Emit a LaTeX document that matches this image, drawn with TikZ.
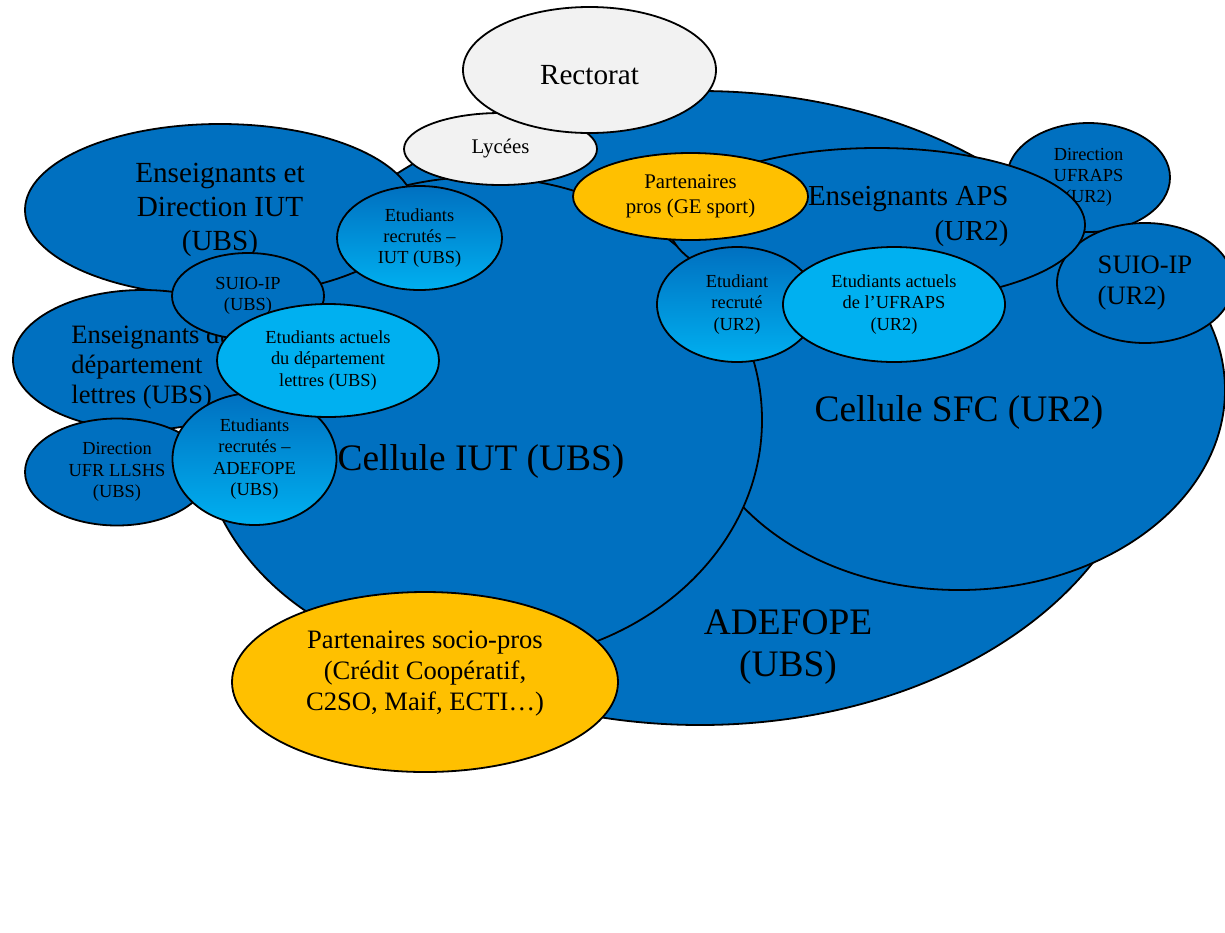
\documentclass[tikz,border=0pt]{standalone}
\usepackage{fontspec}
\setmainfont{Liberation Serif}
\usetikzlibrary{shapes.geometric}
\definecolor{bleu}{HTML}{0070C0}
\definecolor{ciel}{HTML}{00B0F0}
\definecolor{jaune}{HTML}{FFC000}
\definecolor{gris}{HTML}{F2F2F2}

\begin{document}
\begin{tikzpicture}
[x=0.5pt,y=-0.5pt,%
  every node/.style={inner sep=0pt,align=center},%
  bulle/.style 2 args={shape=ellipse,draw,line width=0.9pt,minimum width=#1pt,minimum height=#2pt},%
  fonce/.style={fill=bleu},%
  clair/.style={fill=ciel},%
  degrade/.style={top color=bleu,bottom color=ciel},%
  partenaire/.style={fill=jaune},%
  externe/.style={fill=gris},%
  grand/.style={font=\fontsize{18.7}{21}\selectfont},%
  moyen/.style={font=\fontsize{14.6}{17}\selectfont},%
  normal/.style={font=\fontsize{13.3}{15.5}\selectfont},%
  petit/.style={font=\fontsize{9.2}{10.6}\selectfont}]
\useasboundingbox (0,0) rectangle (1225,932);
%% cellules
\node[bulle={450}{317},fonce] (adefope) at (700,408) {};
\node[bulle={266}{200},fonce] (sfc) at (959,390) {};
\node[bulle={282}{243},fonce] (iut) at (480,420) {};
\node[grand] (txtadefope) at (788,647) {ADEFOPE\\(UBS)};
\node[grand] (txtsfc) at (959,412) {Cellule SFC (UR2)};
\node[grand] (txtiut) at (481,461) {Cellule IUT (UBS)};
%%
\node[bulle={96.5}{36},externe,font=\fontsize{10.4}{12}\selectfont] (lycees) at (500.5,149) {Lycées};
\node[bulle={126.5}{63},externe] (rectorat) at (589.5,70) {};
\node[moyen] (txtrectorat) at (589.5,75) {Rectorat};
%% UBS
\node[bulle={195}{86},fonce,moyen] (ensiut) at (220,210) {Enseignants et\\Direction IUT\\(UBS)};
\node[bulle={82.5}{52},degrade,petit] (recrutiut) at (419.5,238) {Etudiants\\recrutés –\\IUT (UBS)};
\node[bulle={130}{70},fonce] (ensdep) at (143,360) {};
\node[anchor=west,align=left,font=\fontsize{13.25}{15}\selectfont] (txtensdep) at (71,367) {Enseignants du\\département\\lettres (UBS)};
\node[bulle={76}{43},fonce,petit] (suioubs) at (248,296) {SUIO-IP\\(UBS)};
\node[bulle={92}{53.5},fonce,petit] (llshs) at (117,472) {Direction\\UFR LLSHS\\(UBS)};
\node[bulle={82}{66},degrade,petit] (recrutadef) at (254.5,459) {Etudiants\\recrutés –\\ADEFOPE\\(UBS)};
\node[bulle={111}{56.5},clair,petit] (actdep) at (328,360.5) {Etudiants actuels\\du département\\lettres (UBS)};
%% UR2
\node[bulle={81.5}{54.5},fonce,petit] (dirufraps) at (1088.5,177.5) {Direction\\UFRAPS\\(UR2)};
\node[bulle={88}{60},fonce,normal,align=left] (suiour2) at (1145,283) {SUIO-IP\\(UR2)};
\node[bulle={208}{77},fonce] (ensaps) at (877,225) {};
\node[anchor=east,align=right,font=\fontsize{14.5}{17.5}\selectfont] (txtensaps) at (1009,216) {Enseignants APS\\(UR2)};
\node[bulle={117.5}{43.5},partenaire,font=\fontsize{10.4}{12.3}\selectfont] (partpros) at (690.5,196.5) {Partenaires\\pros (GE sport)};
\node[bulle={80}{57.5},degrade,petit] (recrutur2) at (737,304.5) {Etudiant\\recruté\\(UR2)};
\node[bulle={111}{57.5},clair,petit] (actufraps) at (894,304.5) {Etudiants actuels\\de l’UFRAPS\\(UR2)};
%% partenaires
\node[bulle={193}{90},partenaire] (partsocio) at (425,682) {};
\node[normal] (txtpartsocio) at (425,674) {Partenaires socio-pros\\(Crédit Coopératif,\\C2SO, Maif, ECTI…)};
\end{tikzpicture}
\end{document}
